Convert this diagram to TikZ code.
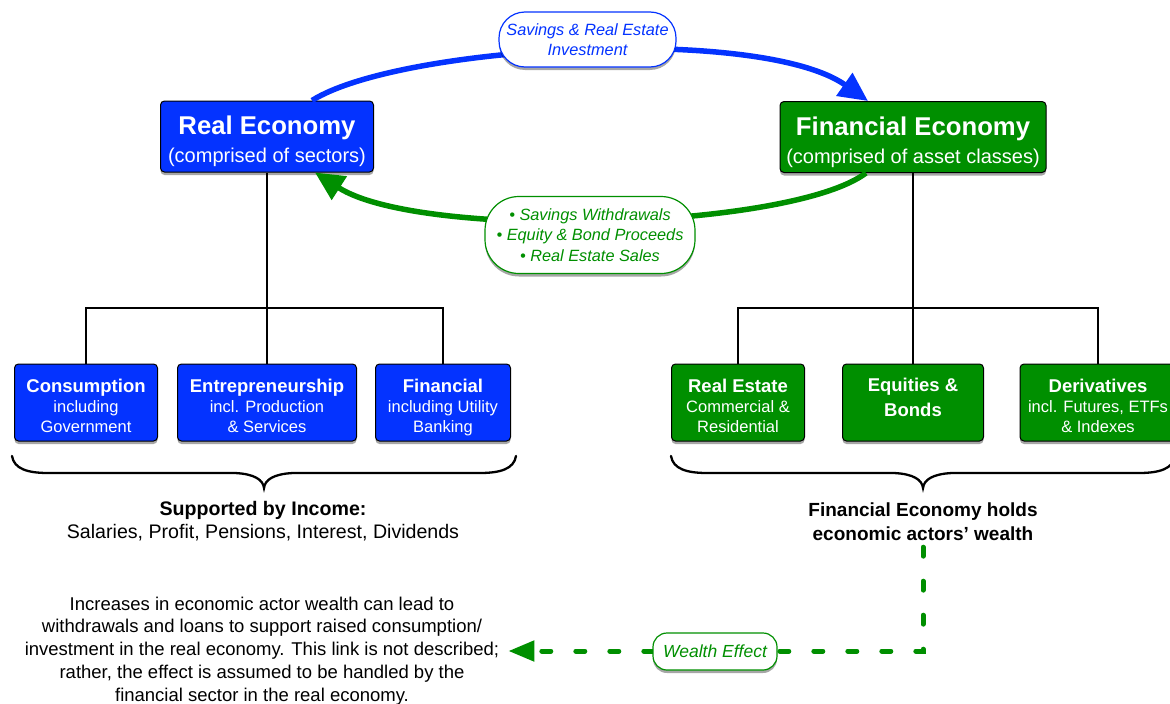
\documentclass[tikz,border=0pt]{standalone}
\usepackage{fontspec}
\setmainfont{Liberation Sans}
\usetikzlibrary{arrows.meta,shadows,calc}
\definecolor{kblue}{RGB}{4,51,255}
\definecolor{kgreen}{RGB}{0,143,0}
\newcommand\kstrut[1]{\rule{0pt}{#1}}
\begin{document}
\begin{tikzpicture}[x=1pt,y=-1pt,
  shad/.style={drop shadow={shadow xshift=0pt,shadow yshift=-3pt,opacity=0.35,fill=black}},
  mainbox/.style={draw=black,line width=1pt,rounded corners=4pt,text=white,align=center,inner sep=0pt,minimum height=71pt,shad,font=\fontsize{20}{28}\selectfont},
  subbox/.style={draw=black,line width=1pt,rounded corners=4pt,text=white,align=center,inner sep=0pt,minimum height=77pt,shad,font=\fontsize{16.5}{20}\selectfont},
  treeline/.style={draw=black,line width=2pt},
  bracepath/.style={draw=black,line width=2.3pt,line cap=round},
  barc/.style={draw=kblue,line width=5.5pt,-{Triangle[length=29pt,width=27pt]}},
  garc/.style={draw=kgreen,line width=5.5pt,-{Triangle[length=29pt,width=27pt]}},
  pill/.style={fill=white,line width=1.2pt,align=center,inner sep=0pt,shad},
  wdash/.style={draw=kgreen,line width=5pt,line cap=round,dash pattern=on 9pt off 25pt,-{Triangle[length=26pt,width=20pt,line cap=butt]}}
]
\useasboundingbox (0,0) rectangle (1170,704);

% main boxes
\node[mainbox,fill=kblue,minimum width=213pt] (re) at (267,136.5)
  {{\bfseries\fontsize{25.7}{28}\selectfont\kstrut{29pt}Real Economy}\\(comprised of sectors)};
\node[mainbox,fill=kgreen,minimum width=266pt] (fe) at (913,137)
  {{\bfseries\fontsize{25.7}{28}\selectfont\kstrut{29pt}Financial Economy}\\(comprised of asset classes)};

% sub boxes (real)
\node[subbox,fill=kblue,minimum width=143pt] (cons) at (86,402.5)
  {{\bfseries\fontsize{18.5}{20}\selectfont\kstrut{19.6pt}Consumption}\\including\\Government};
\node[subbox,fill=kblue,minimum width=179pt] (ent) at (267,402.5)
  {{\bfseries\fontsize{18.5}{20}\selectfont\kstrut{19.6pt}Entrepreneurship}\\incl. Production\\\& Services};
\node[subbox,fill=kblue,minimum width=135pt] (fin) at (443,402.5)
  {{\bfseries\fontsize{18.5}{20}\selectfont\kstrut{23.6pt}Financial}\\including Utility\\Banking};

% sub boxes (financial)
\node[subbox,fill=kgreen,minimum width=133pt] (rest) at (738,402.5)
  {{\bfseries\fontsize{18.5}{20}\selectfont\kstrut{19.6pt}Real Estate}\\Commercial \&\\Residential};
\node[subbox,fill=kgreen,minimum width=141pt,font=\bfseries\fontsize{18.5}{25}\selectfont] (eq) at (913,402.5)
  {Equities \&\\Bonds\\[-14.5pt]\mbox{}};
\node[subbox,fill=kgreen,minimum width=156pt] (der) at (1098,402.5)
  {{\bfseries\fontsize{18.5}{20}\selectfont\kstrut{19.6pt}Derivatives}\\incl. Futures, ETFs\\\& Indexes};

% tree lines
\draw[treeline] (re.south) -- (ent.north);
\draw[treeline] (cons.north) -- ++(0,-56) -| (fin.north);
\draw[treeline] (fe.south) -- (eq.north);
\draw[treeline] (rest.north) -- ++(0,-56) -| (der.north);

% braces
\draw[bracepath] (12,456) .. controls (14,469) and (28,473) .. (48,473) -- (235,473)
  .. controls (255,474) and (263,480) .. (264,488)
  .. controls (265,480) and (273,474) .. (293,473) -- (480,473)
  .. controls (500,473) and (514,469) .. (516,456);
\draw[bracepath] (671,456) .. controls (673,469) and (687,473) .. (707,473) -- (894,473)
  .. controls (914,474) and (922,480) .. (923,488)
  .. controls (924,480) and (932,474) .. (952,473) -- (1139,473)
  .. controls (1159,473) and (1173,469) .. (1175,456);

% texts below
\node[font=\fontsize{19.6}{23}\selectfont,align=center,inner sep=0pt] (inc) at (263,521.5)
  {\textbf{Supported by Income:}\\Salaries, Profit, Pensions, Interest, Dividends};
\node[font=\bfseries\fontsize{19}{24}\selectfont,align=center,inner sep=0pt] (holds) at (923,522)
  {Financial Economy holds\\economic actors’ wealth};
\node[font=\fontsize{18.5}{22.8}\selectfont,align=center,inner sep=0pt] (note) at (262,651)
  {Increases in economic actor wealth can lead to\\withdrawals and loans to support raised consumption/\\investment in the real economy. This link is not described;\\rather, the effect is assumed to be handled by the\\financial sector in the real economy.};

% arcs
\draw[barc] ([xshift=45pt]re.north) .. controls (400,45) and (760,25) .. ([xshift=-45pt]fe.north);
\draw[garc] ([xshift=-47pt]fe.south) .. controls (790,230) and (420,240) .. ([xshift=48pt]re.south);

% wealth effect dashed
\draw[wdash] ([yshift=-6pt]holds.south) |- ([xshift=9pt]note.east);

% labels
\node[pill,draw=kblue,text=kblue,rounded corners=26pt,minimum width=177pt,minimum height=55pt,
  font=\itshape\fontsize{16.3}{20}\selectfont] (sav) at (587.5,39.5)
  {\kstrut{13pt}Savings \& Real Estate\\Investment};
\node[pill,draw=kgreen,text=kgreen,rounded corners=34pt,minimum width=210pt,minimum height=77pt,
  font=\itshape\fontsize{16.3}{20.5}\selectfont] (wd) at (590,235)
  {• Savings Withdrawals\\• Equity \& Bond Proceeds\\• Real Estate Sales};
\node[pill,draw=kgreen,text=kgreen,rounded corners=14pt,minimum width=124pt,minimum height=37pt,
  font=\itshape\fontsize{17.5}{20}\selectfont] (we) at (715,651.5)
  {Wealth Effect};
\end{tikzpicture}
\end{document}
